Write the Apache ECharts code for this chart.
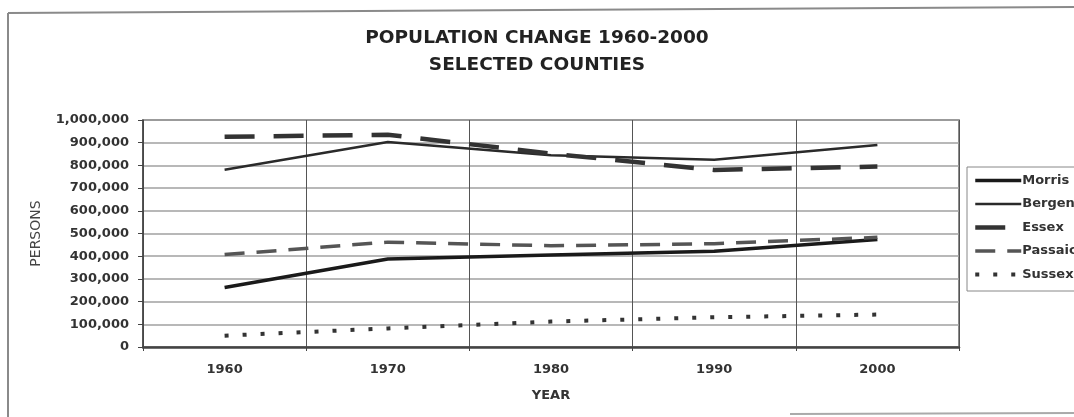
<!DOCTYPE html>
<html>
<head>
<meta charset="utf-8">
<script src="https://cdn.jsdelivr.net/npm/echarts@6/dist/echarts.min.js"></script>
<style>
html,body{margin:0;padding:0;background:#fff;}
#chart{width:1074px;height:417px;}
</style>
</head>
<body>
<div id="chart"></div>
<script>
// ---- data ----
const years = ['1960', '1970', '1980', '1990', '2000'];
const morris  = [262000, 388000, 405000, 422000, 474000];
const bergen  = [781000, 903000, 845000, 825000, 890000];
const essex   = [926000, 935000, 852000, 780000, 795000];
const passaic = [407000, 462000, 446000, 455000, 483000];
const sussex  = [50000, 82000, 112000, 131000, 143000];
const yTicks = [0, 100000, 200000, 300000, 400000, 500000, 600000, 700000, 800000, 900000, 1000000];

const titleText = 'POPULATION CHANGE 1960-2000\nSELECTED COUNTIES';
const xName = 'YEAR';
const yName = 'PERSONS';

const FONT = 'DejaVu Sans';

function fmt(v) { return String(v).replace(/\B(?=(\d{3})+(?!\d))/g, ','); }

const chart = echarts.init(document.getElementById('chart'), null, {renderer: 'canvas'});

function line(name, data, color, width, type) {
  return {
    name: name, type: 'line', data: data, symbol: 'none', showSymbol: false,
    lineStyle: {color: color, width: width, type: type, cap: 'butt'},
    itemStyle: {color: color},
    emphasis: {disabled: true},
    animation: false
  };
}

chart.setOption({
  backgroundColor: '#ffffff',
  animation: false,
  title: {
    text: titleText,
    left: 'center',
    top: 25,
    padding: [0, 0, 0, 20],
    textStyle: {fontFamily: FONT, fontWeight: 'bold', fontSize: 18.5, lineHeight: 27, color: '#222'}
  },
  legend: {
    orient: 'vertical',
    left: 967, top: 167,
    padding: [7, 20, 10, 6],
    itemWidth: 46, itemHeight: 12, itemGap: 10.5,
    borderColor: '#888', borderWidth: 1,
    itemStyle: {opacity: 0},
    lineStyle: {width: 'inherit', type: 'inherit', cap: 'butt'},
    textStyle: {fontFamily: FONT, fontWeight: 'bold', fontSize: 13, color: '#333', padding: [0, 0, 0, -4]},
    data: ['Morris', 'Bergen', 'Essex', 'Passaic', 'Sussex']
  },
  grid: {left: 143, right: 115, top: 120, bottom: 70, show: true, borderColor: '#666', borderWidth: 1.5, containLabel: false},
  xAxis: {
    type: 'category', data: years, boundaryGap: true,
    name: xName, nameLocation: 'middle', nameGap: 42,
    nameTextStyle: {fontFamily: FONT, fontWeight: 'bold', fontSize: 13, color: '#333'},
    axisLine: {lineStyle: {color: '#444', width: 2.5}},
    axisTick: {show: true, length: 4, lineStyle: {color: '#444'}},
    axisLabel: {fontFamily: FONT, fontWeight: 'bold', fontSize: 13, color: '#333', margin: 16},
    splitLine: {show: true, lineStyle: {color: '#555', width: 1}}
  },
  yAxis: {
    type: 'value', min: 0, max: 1000000, interval: 100000,
    name: yName, nameLocation: 'middle', nameGap: 100, nameRotate: 90,
    nameTextStyle: {fontFamily: FONT, fontSize: 14, color: '#444'},
    axisLine: {show: true, lineStyle: {color: '#444', width: 1.5}},
    axisTick: {show: true, length: 5, lineStyle: {color: '#444'}},
    axisLabel: {fontFamily: FONT, fontWeight: 'bold', fontSize: 13, color: '#333', margin: 14,
      formatter: function (v) { return yTicks.indexOf(v) >= 0 ? fmt(v) : ''; }},
    splitLine: {show: true, lineStyle: {color: '#a0a0a0', width: 1.5}}
  },
  graphic: [
    {type: 'line', shape: {x1: 8, y1: 13, x2: 1074, y2: 7}, style: {stroke: '#8a8a8a', lineWidth: 2}, silent: true},
    {type: 'line', shape: {x1: 8, y1: 13, x2: 8, y2: 417}, style: {stroke: '#8a8a8a', lineWidth: 2}, silent: true},
    {type: 'line', shape: {x1: 790, y1: 414, x2: 1074, y2: 413}, style: {stroke: '#aaaaaa', lineWidth: 2}, silent: true}
  ],
  series: [
    line('Morris', morris, '#1a1a1a', 3.5, 'solid'),
    line('Bergen', bergen, '#2a2a2a', 2.5, 'solid'),
    line('Essex', essex, '#333333', 4.5, [30, 19]),
    line('Passaic', passaic, '#555555', 3.5, [20, 12]),
    line('Sussex', sussex, '#333333', 4, [4, 14])
  ]
});
</script>
</body>
</html>
